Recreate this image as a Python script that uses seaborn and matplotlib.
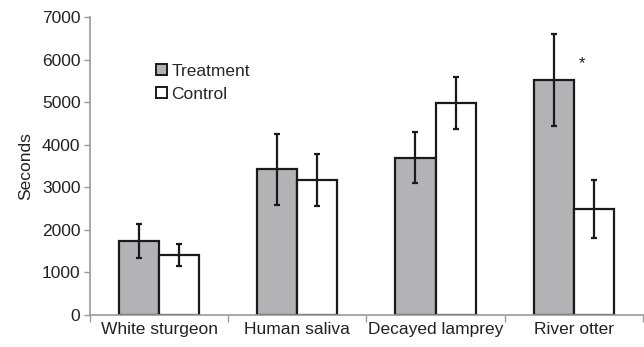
import numpy as np
import pandas as pd
import matplotlib
matplotlib.use("Agg")
import matplotlib.pyplot as plt
import seaborn as sns

categories = ["White sturgeon", "Human saliva", "Decayed lamprey", "River otter"]
groups = ["Treatment", "Control"]
treatment_mean = [1730, 3420, 3690, 5510]
treatment_err = [400, 830, 600, 1080]
control_mean = [1410, 3170, 4980, 2490]
control_err = [250, 610, 615, 690]
yticks = [0, 1000, 2000, 3000, 4000, 5000, 6000, 7000]

df = pd.DataFrame({
    "category": categories * 2,
    "group": ["Treatment"] * 4 + ["Control"] * 4,
    "seconds": treatment_mean + control_mean,
    "err": treatment_err + control_err,
})

sns.set_style("white")
plt.rcParams["font.family"] = ["Liberation Sans", "DejaVu Sans"]

fig = plt.figure(figsize=(6.44, 3.47), dpi=100)
ax = fig.add_axes([0.14, 0.092, 0.858, 0.859])

sns.barplot(data=df, x="category", y="seconds", hue="group", order=categories,
            hue_order=groups, palette={"Treatment": "#b3b3b5", "Control": "#ffffff"},
            edgecolor="#1a1a1a", linewidth=1.6, width=0.58, errorbar=None,
            saturation=1, ax=ax)

# error bars on the bar centres
for cont, g in zip(ax.containers, groups):
    sub = df[df["group"] == g].set_index("category").loc[categories]
    xs = [p.get_x() + p.get_width() / 2 for p in cont.patches]
    ax.errorbar(xs, sub["seconds"], yerr=sub["err"], fmt="none",
                ecolor="#1a1a1a", elinewidth=1.6, capsize=2.5, capthick=1.6, zorder=5)

ax.text(3.06, 5900, "*", ha="center", va="center", fontsize=12, color="#222222")

ax.set_xlim(-0.5, 3.5)
ax.set_ylim(0, 7000)
ax.set_yticks(yticks)
ax.set_xlabel("")
ax.set_ylabel("Seconds", fontsize=12.5, color="#222222", labelpad=6)
ax.tick_params(axis="y", labelsize=12.5, colors="#222222", length=4, width=1, left=True,
               color="#999999", pad=3)
ax.tick_params(axis="x", labelsize=12.5, colors="#222222", length=0, pad=5)
ax.set_xticks(np.arange(-0.5, 4.0, 1.0), minor=True)
ax.tick_params(axis="x", which="minor", length=5, width=1, color="#999999", bottom=True)

sns.despine(ax=ax)
for s in ["left", "bottom"]:
    ax.spines[s].set_color("#999999")
    ax.spines[s].set_linewidth(1.2)

leg = ax.legend(loc="upper left", bbox_to_anchor=(0.12, 0.843), frameon=False,
                fontsize=12.5, handlelength=0.6, handleheight=0.6, handletextpad=0.25,
                labelspacing=0.45, borderpad=0, borderaxespad=0)
for h in leg.legend_handles:
    h.set_linewidth(1.4)

fig.savefig("out.png", dpi=100)
